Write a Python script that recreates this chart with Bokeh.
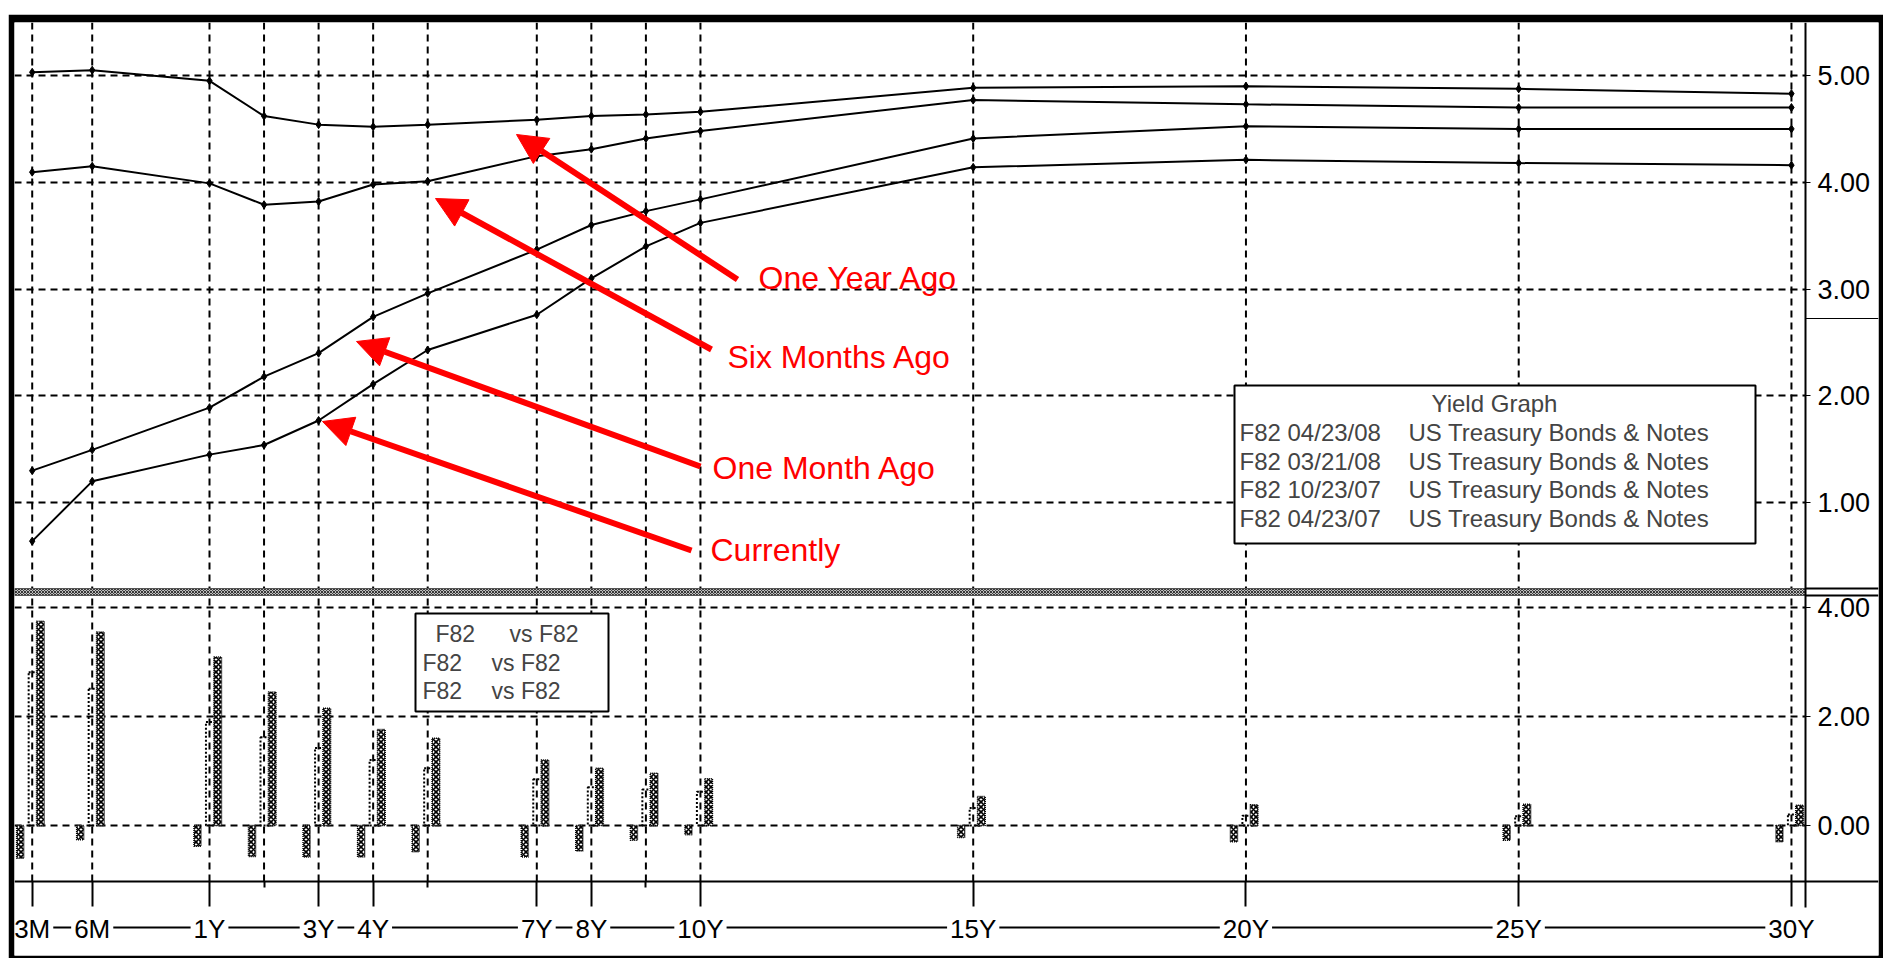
from bokeh.plotting import figure
from bokeh.models import (Range1d, LinearAxis, FixedTicker, Grid, Label, Arrow,
                          NormalHead, PrintfTickFormatter)
from bokeh.embed import file_html
from bokeh.resources import INLINE

# ---------------- data ----------------
tenor_labels = ["3M", "6M", "1Y", "2Y", "3Y", "4Y", "5Y", "7Y", "8Y", "9Y",
                "10Y", "15Y", "20Y", "25Y", "30Y"]
tenor_pos = [-2.25, -1.15, 1, 2, 3, 4, 5, 7, 8, 9, 10, 15, 20, 25, 30]
axis_labels = ["3M", "6M", "1Y", "3Y", "4Y", "7Y", "8Y", "10Y", "15Y", "20Y", "25Y", "30Y"]

yield_one_year_ago = [5.03, 5.05, 4.95, 4.62, 4.54, 4.52, 4.54, 4.585, 4.62, 4.635, 4.66, 4.885, 4.90, 4.875, 4.83]
yield_six_months_ago = [4.095, 4.15, 3.99, 3.79, 3.82, 3.98, 4.01, 4.245, 4.31, 4.41, 4.48, 4.77, 4.73, 4.70, 4.70]
yield_one_month_ago = [1.30, 1.495, 1.89, 2.18, 2.40, 2.74, 2.96, 3.37, 3.60, 3.73, 3.84, 4.41, 4.525, 4.50, 4.50]
yield_current = [0.64, 1.20, 1.45, 1.54, 1.77, 2.11, 2.43, 2.76, 3.10, 3.40, 3.62, 4.14, 4.21, 4.18, 4.16]

spread_a = [-0.60, -0.26, -0.38, -0.57, -0.58, -0.58, -0.48, -0.58, -0.47, -0.27, -0.17, -0.22, -0.30, -0.27, -0.30]
spread_b = [3.75, 3.55, 3.09, 2.45, 2.15, 1.76, 1.60, 1.20, 1.05, 0.96, 0.86, 0.53, 0.38, 0.39, 0.37]
spread_c = [2.81, 2.51, 1.90, 1.62, 1.42, 1.20, 1.05, 0.85, 0.70, 0.66, 0.62, 0.32, 0.18, 0.17, 0.20]

yield_ticks = [1, 2, 3, 4, 5]
spread_ticks = [0, 2, 4]
minor_tenors = ["2Y", "5Y", "9Y"]

legend_title = "Yield Graph"
legend_dates = ["F82 04/23/08", "F82 03/21/08", "F82 10/23/07", "F82 04/23/07"]
legend_desc = "US Treasury Bonds & Notes"
annotations = ["One Year Ago", "Six Months Ago", "One Month Ago", "Currently"]

# ---------------- layout (page pixels -> data) ----------------
OX, OY = 8, 14           # figure offset on the page
W, H = 1875, 944
BL, BR, BT, BB = 6, 5, 8, 3
PX_1Y, PX_PER_YR = 209.0, 54.55
PY_5, PY_PER_UNIT = 75.0, 106.8
PY_S0, PY_PER_S = 825.0, 54.5
FRAME_L, FRAME_R = OX + BL, OX + W - BR
FRAME_T, FRAME_B = OY + BT, OY + H - BB
AXIS_X_PX = 1805
AXIS_Y_PX = 881


def xd(px):
    return 1 + (px - PX_1Y) / PX_PER_YR


def yd(py):
    return 5 - (py - PY_5) / PY_PER_UNIT


def sd(py):
    return -(py - PY_S0) / PY_PER_S


p = figure(width=W, height=H,
           x_range=Range1d(xd(FRAME_L), xd(FRAME_R)),
           y_range=Range1d(yd(FRAME_B), yd(FRAME_T)),
           extra_y_ranges={"spread": Range1d(sd(FRAME_B), sd(FRAME_T))},
           x_axis_type=None, y_axis_type=None,
           toolbar_location=None, output_backend="svg",
           min_border_left=BL, min_border_right=BR,
           min_border_top=BT, min_border_bottom=BB,
           border_fill_color="black", background_fill_color="white",
           outline_line_color=None)
p.margin = (OY, 0, 0, OX)

DASH = "7 5"
# vertical grid at every tenor, from the tenor axis up to the top of the frame
p.segment(x0=tenor_pos, x1=tenor_pos, y0=[yd(AXIS_Y_PX)] * len(tenor_pos),
          y1=[yd(FRAME_T)] * len(tenor_pos), line_color="black", line_width=2,
          line_dash=DASH, level="underlay")
ygrid = Grid(dimension=1, ticker=FixedTicker(ticks=yield_ticks),
             grid_line_color="black", grid_line_width=2, grid_line_dash=DASH,
             cross_bounds=(xd(FRAME_L), xd(AXIS_X_PX)))
sgrid = Grid(dimension=1, y_range_name="spread", ticker=FixedTicker(ticks=spread_ticks),
             grid_line_color="black", grid_line_width=2, grid_line_dash=DASH,
             cross_bounds=(xd(FRAME_L), xd(AXIS_X_PX)))
for g in (ygrid, sgrid):
    p.add_layout(g)

# divider band between panels and the boxes of the value-axis column
p.quad(left=xd(FRAME_L), right=xd(AXIS_X_PX), top=yd(588), bottom=yd(595),
       fill_color="white", hatch_pattern="diagonal_cross", hatch_color="#333",
       hatch_scale=3, hatch_weight=1.2, line_color="#555", line_width=1)
p.segment(x0=[xd(AXIS_X_PX)] * 3, x1=[xd(FRAME_R)] * 3,
          y0=[yd(318), yd(588), yd(595)], y1=[yd(318), yd(588), yd(595)],
          line_color="black", line_width=[1, 2, 2])

# ---------------- yield curves ----------------
for series in (yield_one_year_ago, yield_six_months_ago, yield_one_month_ago, yield_current):
    p.line(tenor_pos, series, line_color="black", line_width=2)
    p.scatter(tenor_pos, series, marker="diamond", size=8, color="black")

# ---------------- spread bars ----------------
p.vbar(x=[t + 0.03 for t in tenor_pos], top=spread_c, bottom=0, width=0.19,
       y_range_name="spread", fill_color=None, line_color="black",
       line_dash="2 2", line_width=2)
p.vbar(x=[t + 0.15 for t in tenor_pos], top=spread_b, bottom=0, width=0.14,
       y_range_name="spread", fill_color="white", hatch_pattern="diagonal_cross",
       hatch_color="black", hatch_scale=5, hatch_weight=1.6,
       line_color="black", line_dash="1 1", line_width=1.5)
p.vbar(x=[t - 0.22 for t in tenor_pos], top=spread_a, bottom=0, width=0.13,
       y_range_name="spread", fill_color="white", hatch_pattern="diagonal_cross",
       hatch_color="black", hatch_scale=5, hatch_weight=1.6,
       line_color="black", line_dash="1 1", line_width=1.5)

# ---------------- axes ----------------
AX_FONT = "Liberation Sans"
yax = LinearAxis(fixed_location=xd(AXIS_X_PX), ticker=FixedTicker(ticks=yield_ticks),
                 formatter=PrintfTickFormatter(format="%.2f"),
                 bounds=(yd(907), yd(FRAME_T)), axis_line_width=2,
                 major_tick_out=5, major_tick_in=0, minor_tick_out=0, minor_tick_in=0,
                 major_label_standoff=7, major_label_text_font=AX_FONT,
                 major_label_text_font_size="27px", major_label_text_color="black")
p.add_layout(yax, "right")
sax = LinearAxis(y_range_name="spread", fixed_location=xd(AXIS_X_PX),
                 ticker=FixedTicker(ticks=spread_ticks),
                 formatter=PrintfTickFormatter(format="%.2f"),
                 axis_line_color=None,
                 major_tick_out=5, major_tick_in=0, minor_tick_out=0, minor_tick_in=0,
                 major_label_standoff=7, major_label_text_font=AX_FONT,
                 major_label_text_font_size="27px", major_label_text_color="black")
p.add_layout(sax, "right")

pos_of = dict(zip(tenor_labels, tenor_pos))
major_pos = [pos_of[l] for l in axis_labels]
minor_pos = [pos_of[l] for l in minor_tenors]
XFS = 26
xax = LinearAxis(y_range_name="spread", fixed_location=sd(AXIS_Y_PX),
                 ticker=FixedTicker(ticks=major_pos, minor_ticks=minor_pos),
                 major_label_overrides={pos_of[l]: l for l in axis_labels},
                 axis_line_width=2, major_tick_out=25, major_tick_in=0,
                 major_tick_line_width=2, minor_tick_out=6, minor_tick_in=0,
                 minor_tick_line_width=2, major_label_standoff=7,
                 major_label_text_font=AX_FONT, major_label_text_font_size=f"{XFS}px",
                 major_label_text_color="black")
p.add_layout(xax, "below")

# connector line running through the tenor labels
EM = {"M": 0.833, "Y": 0.667}


def half_w(s):
    return (sum(EM.get(c, 0.556) for c in s) * XFS / 2 + 3) / PX_PER_YR


x0s, x1s = [], []
for a, b in zip(axis_labels[:-1], axis_labels[1:]):
    x0s.append(pos_of[a] + half_w(a))
    x1s.append(pos_of[b] - half_w(b))
p.segment(x0=x0s, x1=x1s, y0=[sd(927)] * len(x0s), y1=[sd(927)] * len(x0s),
          y_range_name="spread", line_color="black", line_width=2)

# ---------------- legend boxes ----------------
p.quad(left=xd(1234), right=xd(1755), top=yd(385), bottom=yd(543),
       fill_color="white", line_color="black", line_width=2)
LF = "Liberation Sans"
p.add_layout(Label(x=xd(1494), y=yd(403), text=legend_title, text_align="center",
                   text_baseline="middle", text_font=LF, text_font_size="24px"))
for i, d in enumerate(legend_dates):
    yy = yd(432 + i * 28.7)
    p.add_layout(Label(x=xd(1239), y=yy, text=d, text_align="left",
                       text_baseline="middle", text_font=LF, text_font_size="24px"))
    p.add_layout(Label(x=xd(1408), y=yy, text=legend_desc, text_align="left",
                       text_baseline="middle", text_font=LF, text_font_size="24px"))

p.quad(left=xd(415), right=xd(608), top=yd(613), bottom=yd(711),
       fill_color="white", line_color="black", line_width=2)
for (fx, vx, py) in ((435, 509, 633), (422, 491, 662), (422, 491, 690)):
    p.add_layout(Label(x=xd(fx), y=yd(py), text="F82", text_baseline="middle",
                       text_font=LF, text_font_size="23px"))
    p.add_layout(Label(x=xd(vx), y=yd(py), text="vs F82", text_baseline="middle",
                       text_font=LF, text_font_size="23px"))

# ---------------- red annotations ----------------
arrow_px = [((737, 279), (516, 134)), ((711, 349), (435, 198)),
            ((700, 466), (356, 341)), ((691, 550), (322, 421))]
text_px = [(758, 277), (727, 356), (712, 467), (710, 549)]
for name, ((sx, sy), (ex, ey)), (tx, ty) in zip(annotations, arrow_px, text_px):
    p.add_layout(Arrow(end=NormalHead(size=30, fill_color="red", line_color="red"),
                       x_start=xd(sx), y_start=yd(sy), x_end=xd(ex), y_end=yd(ey),
                       line_color="red", line_width=6))
    p.add_layout(Label(x=xd(tx), y=yd(ty), text=name, text_baseline="middle",
                       text_font="Liberation Sans", text_font_size="32px",
                       text_color="#ff0000"))

open("out.html", "w").write(file_html(p, INLINE))
